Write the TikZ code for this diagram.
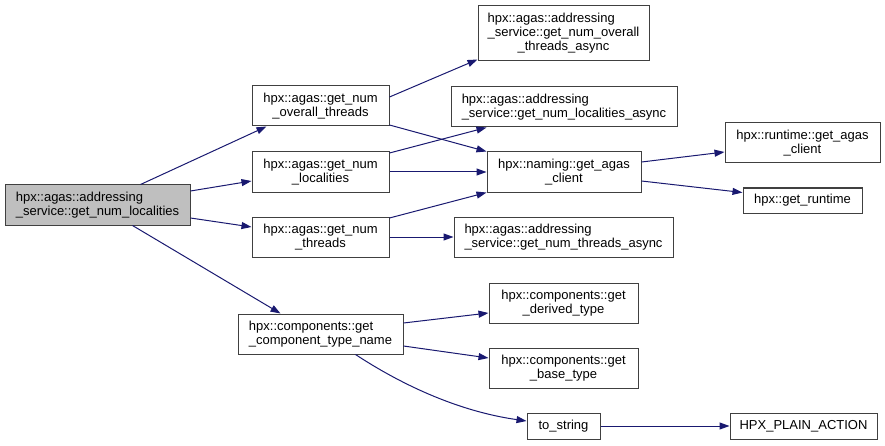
\documentclass[tikz,border=0pt]{standalone}
\usepackage{fontspec}
\setmainfont{Liberation Sans}
\usetikzlibrary{arrows.meta}
\definecolor{edgeblue}{RGB}{25,25,112}
\definecolor{rootgray}{RGB}{191,191,191}

\begin{document}
\begin{tikzpicture}[x=1pt,y=1pt,
    fn/.style={draw=black!75, line width=1pt, fill=white, inner sep=0pt, minimum height=40pt, align=center, font=\fontsize{13}{14}\selectfont},
    call/.style={draw=edgeblue, line width=1pt, -{Triangle[length=10pt,width=7pt]}}]
    \useasboundingbox (0,0) rectangle (885,445);
    \node[fn, fill=rootgray, minimum width=185pt, align=left] (root) at (97.5,240) {hpx::agas::addressing\\\_service::get\_num\_localities};
    \node[fn, minimum width=137pt] (ovr) at (320.5,339) {hpx::agas::get\_num\\\_overall\_threads};
    \node[fn, minimum width=137pt] (loc) at (320.5,273) {hpx::agas::get\_num\\\_localities};
    \node[fn, minimum width=137pt] (thr) at (320.5,208) {hpx::agas::get\_num\\\_threads};
    \node[fn, minimum width=165pt, align=left] (comp) at (320.5,111) {hpx::components::get\\\_component\_type\_name};
    \node[fn, minimum width=171pt, minimum height=55pt] (ovra) at (563.5,411.5) {\begin{tabular}{@{}l@{}}hpx::agas::addressing\\\_service::get\_num\_overall\\\multicolumn{1}{@{}c@{}}{\_threads\_async}\end{tabular}};
    \node[fn, minimum width=226pt, align=left] (loca) at (564,338) {hpx::agas::addressing\\\_service::get\_num\_localities\_async};
    \node[fn, minimum width=154pt] (agas) at (564,273) {hpx::naming::get\_agas\\\_client};
    \node[fn, minimum width=219pt, align=left] (thra) at (563.5,208) {hpx::agas::addressing\\\_service::get\_num\_threads\_async};
    \node[fn, minimum width=155pt] (rtag) at (802.5,302) {hpx::runtime::get\_agas\\\_client};
    \node[fn, minimum width=119pt, minimum height=25pt] (grt) at (802.5,244.5) {hpx::get\_runtime};
    \node[fn, minimum width=149pt] (der) at (563.5,142) {hpx::components::get\\\_derived\_type};
    \node[fn, minimum width=149pt] (base) at (563.5,77) {hpx::components::get\\\_base\_type};
    \node[fn, minimum width=73pt, minimum height=26pt] (tostr) at (563.5,19) {to\_string};
    \node[fn, minimum width=147pt, minimum height=26pt] (plain) at (803.5,19) {HPX\_PLAIN\_ACTION};
    \draw[call] ([xshift=43pt]root.north) -- ([xshift=15pt]ovr.south west);
    \draw[call] ([yshift=14pt]root.east) -- ([yshift=-9pt]loc.west);
    \draw[call] ([yshift=-13pt]root.east) -- ([yshift=10pt]thr.west);
    \draw[call] ([xshift=35pt]root.south) -- ([xshift=-40pt]comp.north);
    \draw[call] ([yshift=9pt]ovr.east) -- ([yshift=2pt]ovra.south west);
    \draw[call] ([yshift=-19pt]ovr.east) -- (agas.north west);
    \draw[call] ([yshift=19pt]loc.east) -- ([xshift=36pt]loca.south west);
    \draw[call] (loc.east) -- (agas.west);
    \draw[call] ([yshift=19pt]thr.east) -- (agas.south west);
    \draw[call] (thr.east) -- (thra.west);
    \draw[call] ([yshift=10pt]agas.east) -- ([yshift=-9pt]rtag.west);
    \draw[call] ([yshift=-9pt]agas.east) -- ([yshift=8pt]grt.west);
    \draw[call] ([yshift=11pt]comp.east) -- ([yshift=-10pt]der.west);
    \draw[call] ([yshift=-12pt]comp.east) -- ([yshift=10pt]base.west);
    \draw[call] ([xshift=35pt]comp.south) .. controls +(35,-23) and +(-77,11) .. ([yshift=5pt]tostr.west);
    \draw[call] (tostr.east) -- (plain.west);
\end{tikzpicture}
\end{document}
